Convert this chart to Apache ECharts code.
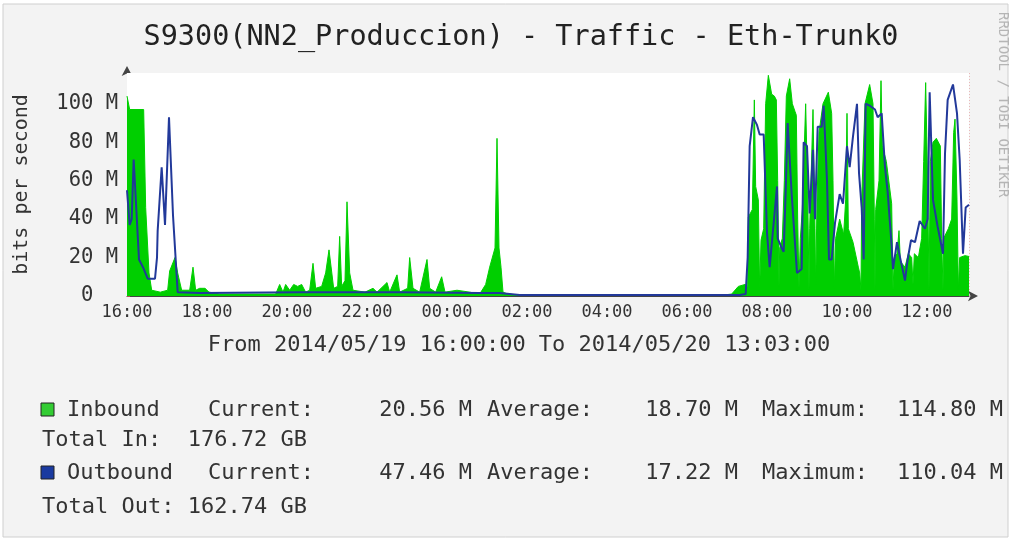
<!DOCTYPE html>
<html>
<head>
<meta charset="utf-8">
<script src="https://cdn.jsdelivr.net/npm/echarts/dist/echarts.min.js"></script>
<style>
  html, body { margin: 0; padding: 0; background: #fff; }
  #main { width: 1012px; height: 541px; }
</style>
</head>
<body>
<div id="main"></div>
<script>
// clock time of each sample (from 2014/05/19 16:00 to 2014/05/20 13:03)
const inTimes = ['16:00','16:04','16:25','16:28','16:33','16:37','16:50','17:01','17:04','17:12','17:16','17:22','17:34','17:39','17:43','17:49','17:57','18:03','18:19','19:04','19:43','19:49','19:54','19:58','20:04','20:10','20:16','20:22','20:28','20:34','20:39','20:43','20:52','20:58','21:03','21:10','21:16','21:19','21:22','21:27','21:30','21:34','21:39','21:57','22:09','22:15','22:30','22:34','22:45','22:49','23:01','23:04','23:09','23:19','23:30','23:34','23:43','23:52','23:57','00:15','00:34','00:49','00:58','01:04','01:12','01:15','01:18','01:21','01:24','01:31','01:49','03:49','06:49',
  '07:07','07:17','07:27','07:31','07:32','07:38','07:41','07:43','07:47','07:49','07:51','07:55','07:58','08:02','08:07','08:11','08:14','08:16','08:18','08:19','08:23','08:26','08:29','08:34','08:38','08:42','08:44','08:46','08:48','08:50','08:53','08:58','09:01','09:03','09:04','09:09','09:12','09:13','09:15','09:18','09:24','09:32','09:37','09:39','09:41','09:43','09:49','09:55','09:58','10:00','10:02','10:09','10:17','10:19','10:21','10:22','10:27','10:34','10:39','10:41','10:42','10:43','10:48','10:51','10:53','10:59','11:07','11:09','11:11','11:15','11:18','11:20','11:27','11:32','11:37','11:39','11:41','11:47','11:52','11:55','11:58','12:01','12:03','12:05','12:09','12:14','12:20','12:22','12:24','12:25','12:32','12:37','12:40','12:42','12:45','12:47','12:49','12:57','13:03'];
// inbound traffic, M bits per second
const inValues = [104,97,97,46,12,3,2,3,13,20,12,3,3,15,3,4,4,2,1,1,1,6,2,6,3,6,5,6,2,3,17,4,5,12,24,4,5,31,5,8,49,12,3,2,4,2,7,2,11,2,4,20,4,2,19,4,2,10,2,3,2,1,6,15,25,82,25,15,2,1,0.5,0.3,0.3,
  1,5,6,5,41,45,102,57,50,3,29,35,100,114.8,105,104,102,60,5,25,30,60,104,113,100,96,94,40,4,30,45,100,55,3,35,97,35,3,50,85,100,106,95,60,4,30,40,32,50,95,35,28,15,12,3,50,100,110,100,40,3,45,60,112,78,70,48,3,20,22,34,18,15,22,20,6,22,20,30,70,111,60,3,70,80,82,78,30,3,30,35,40,85,92,50,3,20,21,20.56];

const outTimes = ['16:00','16:04','16:07','16:10','16:18','16:24','16:31','16:42','16:45','16:46','16:52','16:57','17:03','17:06','17:09','17:16','17:49','20:19','22:49','00:49','01:19','01:49','07:19','07:28','07:31','07:34','07:39','07:45','07:49','07:55','08:00','08:04','08:07','08:15','08:16','08:22','08:25','08:28','08:31','08:37','08:45','08:52','08:55','09:00','09:04','09:09','09:12','09:16','09:22','09:25','09:30','09:33','09:37','09:42','09:49','09:54','10:00','10:04','10:09','10:15','10:18','10:22','10:25','10:28','10:34','10:42','10:46','10:52','10:57','11:01','11:07','11:09','11:15','11:19','11:27','11:31','11:36','11:42','11:49','11:57','12:01','12:04','12:09','12:16','12:24','12:27','12:31','12:39','12:45','12:49','12:54','12:58','13:03'];
// outbound traffic, M bits per second
const outValues = [55,37,40,71,19,15,9,9,20,34,67,37,93,93,42,2,1.5,2,2,1.5,1.5,0.5,0.5,1,20,78,93,89,84,84,33,15,16,57,30,25,23,54,90,53,12,14,80,78,43,76,40,88,88,99,60,19,19,38,53,48,78,67,83,100,64,46,19,100,99,97,93,95,67,54,26,14,28,21,8,19,29,28,39,35,40,106,50,36,22,74,102,110.04,95,71,22,46,47.46];

// legend texts
const inStats = ['20.56 M', '18.70 M', '114.80 M'];
const outStats = ['47.46 M', '17.22 M', '110.04 M'];
const totalIn = '176.72 GB';
const totalOut = '162.74 GB';

const mono = 'DejaVu Sans Mono';

// hours since 16:00
function toHours(s) {
  let p = s.split(':');
  let t = Number(p[0]) + Number(p[1]) / 60 - 16;
  if (t < 0) t += 24;
  return t;
}
function pairs(times, vals) {
  return times.map((t, i) => [toHours(t), vals[i]]);
}

function txt(x, y, s, align) {
  return { type: 'text', x: x, y: y,
    style: { text: s, font: '22px ' + mono, fill: '#333', textAlign: align || 'left', textVerticalAlign: 'middle' } };
}

function legendRow(y, color, name, stats) {
  return [
    { type: 'rect', shape: { x: 41, y: y - 7, width: 13, height: 13 }, style: { fill: color, stroke: '#222', lineWidth: 1 } },
    txt(67, y, name),
    txt(208, y, 'Current:'),
    txt(472, y, stats[0], 'right'),
    txt(487, y, 'Average:'),
    txt(738, y, stats[1], 'right'),
    txt(762, y, 'Maximum:'),
    txt(1003, y, stats[2], 'right')
  ];
}

let myChart = echarts.init(document.getElementById('main'));

let option = {
  backgroundColor: '#fff',
  animation: false,
  title: {
    text: 'S9300(NN2_Produccion) - Traffic - Eth-Trunk0',
    left: 516,
    top: 18,
    textAlign: 'center',
    textStyle: { fontFamily: mono, fontSize: 28.5, fontWeight: 'normal', color: '#222' }
  },
  grid: {
    left: 127, right: 43, top: 73, bottom: 245,
    outerBoundsMode: 'none',
    containLabel: false,
    show: true, backgroundColor: '#fff', borderWidth: 0, z: 1
  },
  xAxis: {
    type: 'value',
    min: 0,
    max: 21.05,
    interval: 2,
    axisLine: { show: true, lineStyle: { color: '#444', width: 1 }, symbol: ['none', 'arrow'], symbolSize: [8, 10], symbolOffset: [0, 9] },
    axisTick: { show: true, length: 3, inside: true, lineStyle: { color: '#a55' } },
    axisLabel: {
      showMaxLabel: false,
      margin: 8,
      fontFamily: mono, fontSize: 17, color: '#333',
      formatter: function (v) {
        let h = (16 + v) % 24;
        return (h < 10 ? '0' : '') + h + ':00';
      }
    },
    splitLine: { show: true, lineStyle: { color: '#e8b9b9', type: [1, 2], width: 1 } },
    minorTick: { show: false, splitNumber: 4 },
    minorSplitLine: { show: true, lineStyle: { color: '#dcdcdc', type: [1, 2], width: 1 } }
  },
  yAxis: {
    type: 'value',
    min: 0,
    max: 116,
    interval: 20,
    name: 'bits per second',
    nameLocation: 'middle',
    nameRotate: 90,
    nameGap: 95,
    nameTextStyle: { fontFamily: mono, fontSize: 20, color: '#333' },
    axisLine: { show: true, lineStyle: { color: '#444', width: 1 }, symbol: ['none', 'arrow'], symbolSize: [8, 10], symbolOffset: [0, 7] },
    axisTick: { show: true, length: 3, inside: true, lineStyle: { color: '#a55' } },
    axisLabel: {
      showMaxLabel: false,
      margin: 9,
      fontFamily: mono, fontSize: 20.5, color: '#333',
      // rrdtool keeps the unit column, so the bare 0 sits under the digits
      formatter: function (v) { return v === 0 ? '0  ' : v + ' M'; }
    },
    splitLine: { show: true, lineStyle: { color: '#e8b9b9', type: [1, 2], width: 1 } },
    minorTick: { show: false, splitNumber: 4 },
    minorSplitLine: { show: true, lineStyle: { color: '#dcdcdc', type: [1, 2], width: 1 } }
  },
  series: [
    {
      name: 'Inbound',
      type: 'line',
      data: pairs(inTimes, inValues),
      showSymbol: false,
      lineStyle: { color: '#00CF00', width: 1 },
      areaStyle: { color: '#00CF00', opacity: 1 },
      z: 2
    },
    {
      name: 'Outbound',
      type: 'line',
      data: pairs(outTimes, outValues),
      showSymbol: false,
      lineStyle: { color: '#22399a', width: 2 },
      z: 3
    }
  ],
  graphic: [
    // outer frame
    { type: 'rect', shape: { x: 3, y: 4, width: 1005, height: 533 }, style: { fill: '#f3f3f3', stroke: '#cfcfcf', lineWidth: 1 }, z: -10, silent: true },
    { type: 'text', x: 1003, y: 12, rotation: -Math.PI / 2,
      style: { text: 'RRDTOOL / TOBI OETIKER', font: '14px ' + mono, fill: '#b5b5b5', textVerticalAlign: 'middle' } },
    txt(519, 345, 'From 2014/05/19 16:00:00 To 2014/05/20 13:03:00', 'center')
  ]
    .concat(legendRow(410, '#33cc33', 'Inbound', inStats))
    .concat([txt(42, 440, 'Total In:  ' + totalIn)])
    .concat(legendRow(473, '#1a3aa0', 'Outbound', outStats))
    .concat([txt(42, 507, 'Total Out: ' + totalOut)])
};

myChart.setOption(option);
</script>
</body>
</html>
